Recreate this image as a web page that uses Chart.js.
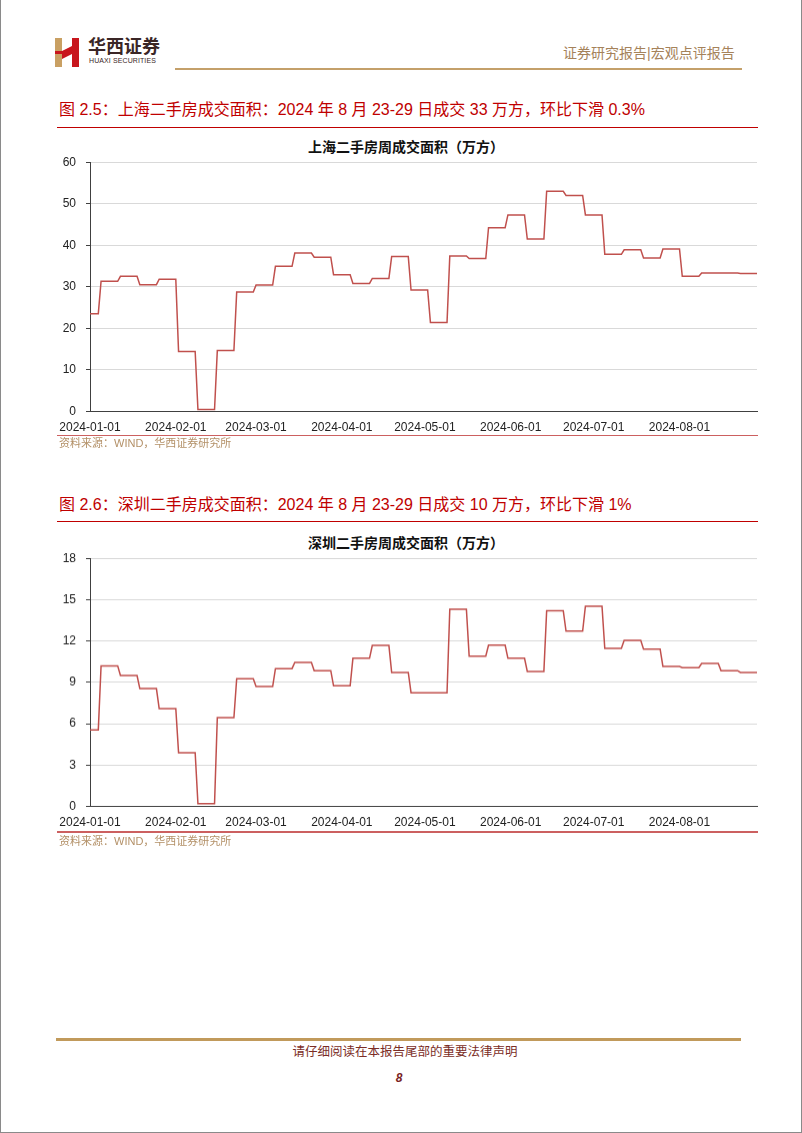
<!DOCTYPE html>
<html>
<head>
<meta charset="utf-8">
<script src="https://cdn.jsdelivr.net/npm/chart.js@4.4.1/dist/chart.umd.min.js"></script>
<style>
  html, body { margin: 0; padding: 0; background: #fff; }
  #page { position: relative; width: 802px; height: 1133px; overflow: hidden; box-sizing: border-box;
          border-left: 1px solid #8a8a8a; border-right: 1px solid #8a8a8a; border-bottom: 1px solid #8a8a8a; }
  .abs { position: absolute; white-space: nowrap; }
  .cjk { font-family: "Liberation Sans", "Noto Sans CJK SC", sans-serif; }
  .figtitle { font-size: 16px; color: #c00000; height: 20px; line-height: 20px; }
  .redline { height: 1px; background: #c00000; }
  .srcline { height: 1.5px; background: #cc6060; }
  .charttitle { font-size: 14px; font-weight: bold; color: #111; text-align: center; width: 400px; height: 18px; line-height: 18px; }
  .src { font-size: 11px; color: #b39067; height: 14px; line-height: 14px; }
  .box { position: absolute; }
</style>
</head>
<body>
<div id="page">
  <!-- header -->
  <svg class="abs" style="left:54px; top:38px;" width="26" height="29" viewBox="0 0 26 29">
    <rect x="0" y="0" width="7" height="29" fill="#c9a063"/>
    <polygon points="7,13 17,8 17,0 24,0 24,29 17,29 17,16 7,21" fill="#c8161d"/>
    <rect x="0" y="13" width="7" height="3" fill="#c8161d"/>
  </svg>
  <div class="abs cjk" style="left:87px; top:36px; font-size:18px; font-weight:bold; color:#3a2626; line-height:22px;">华西证券</div>
  <div class="abs" style="left:88px; top:57px; font-size:7px; font-family:'Liberation Sans',sans-serif; color:#3a2626; line-height:8px; letter-spacing:0.1px;">HUAXI SECURITIES</div>
  <div class="abs cjk" style="left:562px; top:44px; font-size:14px; color:#a5825a; line-height:18px;">证券研究报告|宏观点评报告</div>
  <div class="abs" style="left:174px; top:68px; width:567px; height:2px; background:#c4a06a;"></div>

  <!-- figure 2.5 -->
  <div class="abs cjk figtitle" style="left:58px; top:100px;">图 2.5：上海二手房成交面积：2024 年 8 月 23-29 日成交 33 万方，环比下滑 0.3%</div>
  <div class="abs redline" style="left:56px; top:127px; width:701px;"></div>
  <div class="abs cjk charttitle" style="left:205px; top:138px;">上海二手房周成交面积（万方）</div>
  <div class="box" style="left:40px; top:144.5px; width:730px; height:295.5px;"><canvas id="shChart"></canvas></div>
  <div class="abs srcline" style="left:56px; top:434.5px; width:701px;"></div>
  <div class="abs cjk src" style="left:58px; top:436px;">资料来源：WIND，华西证券研究所</div>

  <!-- figure 2.6 -->
  <div class="abs cjk figtitle" style="left:58px; top:495px;">图 2.6：深圳二手房成交面积：2024 年 8 月 23-29 日成交 10 万方，环比下滑 1%</div>
  <div class="abs redline" style="left:56px; top:521px; width:701px;"></div>
  <div class="abs cjk charttitle" style="left:205px; top:534px;">深圳二手房周成交面积（万方）</div>
  <div class="box" style="left:40px; top:541.1px; width:730px; height:293.9px;"><canvas id="szChart"></canvas></div>
  <div class="abs srcline" style="left:56px; top:831px; width:701px;"></div>
  <div class="abs cjk src" style="left:58px; top:833.5px;">资料来源：WIND，华西证券研究所</div>

  <!-- footer -->
  <div class="abs" style="left:55px; top:1038px; width:685px; height:3px; background:#c19a5b;"></div>
  <div class="abs cjk" style="left:204px; width:400px; text-align:center; top:1044px; font-size:12.5px; color:#7b2d26; line-height:17px;">请仔细阅读在本报告尾部的重要法律声明</div>
  <div class="abs" style="left:348px; width:100px; text-align:center; top:1071px; font-size:12px; font-weight:bold; font-style:italic; font-family:'Liberation Sans',sans-serif; color:#7a1f1f; line-height:15px;">8</div>
</div>

<script>
// week start dates (first entry is the partial week of Jan 1-4)
const weekStarts = [
  '2024-01-01', '2024-01-05', '2024-01-12', '2024-01-19', '2024-01-26',
  '2024-02-02', '2024-02-09', '2024-02-16', '2024-02-23',
  '2024-03-01', '2024-03-08', '2024-03-15', '2024-03-22', '2024-03-29',
  '2024-04-05', '2024-04-12', '2024-04-19', '2024-04-26',
  '2024-05-03', '2024-05-10', '2024-05-17', '2024-05-24', '2024-05-31',
  '2024-06-07', '2024-06-14', '2024-06-21', '2024-06-28',
  '2024-07-05', '2024-07-12', '2024-07-19', '2024-07-26',
  '2024-08-02', '2024-08-09', '2024-08-16', '2024-08-23'
];
const lastDay = '2024-08-29';

// 上海二手房周成交面积（万方）
const shanghai = [
  23.5, 31.3, 32.5, 30.5, 31.8,
  14.4, 0.4, 14.6, 28.7,
  30.4, 34.9, 38.1, 37.1, 32.9,
  30.8, 32.0, 37.3, 29.2,
  21.4, 37.4, 36.8, 44.2, 47.3,
  41.5, 53.0, 52.0, 47.3,
  37.8, 38.9, 36.9, 39.1,
  32.5, 33.3, 33.3, 33.2
];

// 深圳二手房周成交面积（万方）
const shenzhen = [
  5.55, 10.2, 9.5, 8.55, 7.1,
  3.9, 0.2, 6.45, 9.27,
  8.7, 10.0, 10.45, 9.85, 8.75,
  10.75, 11.68, 9.72, 8.25,
  8.25, 14.3, 10.9, 11.7, 10.75,
  9.8, 14.2, 12.72, 14.52,
  11.47, 12.05, 11.42, 10.16,
  10.07, 10.37, 9.85, 9.72
];

const tickLabels = ['2024-01-01', '2024-02-01', '2024-03-01', '2024-04-01',
                    '2024-05-01', '2024-06-01', '2024-07-01', '2024-08-01'];

function dayIdx(s) {
  const p = s.split('-').map(Number);
  return (Date.UTC(p[0], p[1] - 1, p[2]) - Date.UTC(2024, 0, 1)) / 86400000;
}

// each weekly value is held flat from the first to the last day of its week
function weeklyPoints(values) {
  const pts = [];
  values.forEach(function(v, i) {
    const start = dayIdx(weekStarts[i]);
    const end = i < weekStarts.length - 1 ? dayIdx(weekStarts[i + 1]) - 1 : dayIdx(lastDay);
    pts.push({x: start, y: v});
    pts.push({x: end, y: v});
  });
  return pts;
}

const tickDays = tickLabels.map(dayIdx);
const tickFont = {family: "'Liberation Sans', Arial, sans-serif", size: 12};

function drawChart(id, values, yMax, yStep) {
  return new Chart(document.getElementById(id), {
    type: 'line',
    data: {
      datasets: [{
        data: weeklyPoints(values),
        borderColor: '#c0504d',
        borderWidth: 1.5,
        pointRadius: 0,
        tension: 0,
        fill: false
      }]
    },
    options: {
      responsive: true,
      maintainAspectRatio: false,
      animation: false,
      layout: {padding: {top: 0, right: 14, bottom: 0, left: 0}},
      plugins: {legend: {display: false}, tooltip: {enabled: false}},
      scales: {
        x: {
          type: 'linear',
          min: 0,
          max: dayIdx(lastDay),
          grid: {display: false, drawTicks: false},
          border: {display: true, color: '#404040', width: 1},
          afterBuildTicks: function(scale) {
            scale.ticks = tickDays.map(function(d) { return {value: d}; });
          },
          afterFit: function(scale) { scale.height = 29.3; },
          ticks: {
            autoSkip: false,
            maxRotation: 0,
            padding: 9,
            color: '#222',
            font: tickFont,
            callback: function(value) { return tickLabels[tickDays.indexOf(value)]; }
          }
        },
        y: {
          min: 0,
          max: yMax,
          grid: {color: '#d9d9d9', lineWidth: 1, tickColor: '#404040', tickLength: 4},
          border: {display: true, color: '#404040', width: 1},
          afterFit: function(scale) { scale.width = 49; },
          ticks: {stepSize: yStep, padding: 10, color: '#222', font: tickFont}
        }
      }
    }
  });
}

drawChart('shChart', shanghai, 60, 10);
drawChart('szChart', shenzhen, 18, 3);
</script>
</body>
</html>
